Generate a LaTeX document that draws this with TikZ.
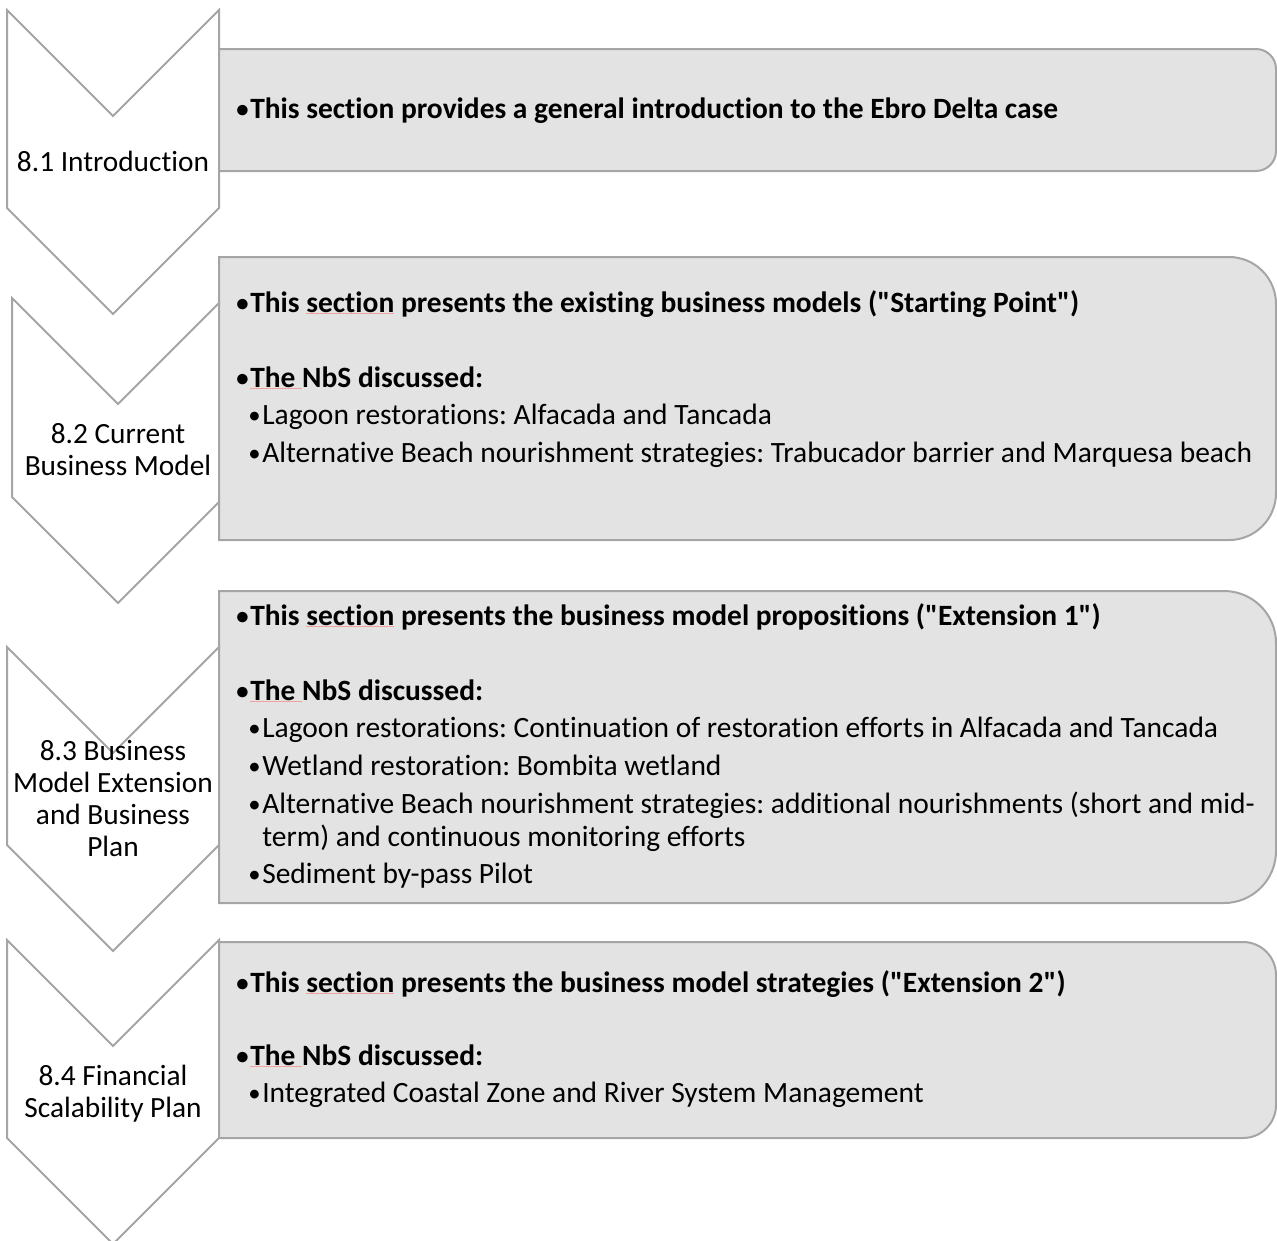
\documentclass[tikz,border=0pt]{standalone}
\usepackage{fontspec}
\setmainfont{Carlito}[Ligatures={TeXOff,NoCommon}]

\definecolor{edgegray}{HTML}{A5A5A5}
\definecolor{panelgray}{HTML}{E3E3E3}
\definecolor{squig}{HTML}{F2A0A0}

% light red mark under a word
\newsavebox\markbox
\newcommand\spellmark[1]{\sbox\markbox{#1}\rlap{\color{squig}\rule[-1.6pt]{\wd\markbox}{0.7pt}}\usebox\markbox}
% bullet followed by its indent
\newcommand\itemdot{\makebox[10.5pt][l]{\raisebox{0.5pt}{\fontsize{18.5}{24}\selectfont •}}}

\tikzset{
  chevron/.style={draw=edgegray, line width=1.5pt, fill=white, line join=miter},
  panel/.style={draw=edgegray, line width=1.5pt, fill=panelgray},
  steplabel/.style={font=\fontsize{22}{24}\selectfont, anchor=base, inner sep=0pt},
  itemtext/.style={font=\fontsize{22.1}{24}\selectfont\frenchspacing, anchor=base west, inner sep=0pt},
  headtext/.style={font=\fontsize{22.1}{24}\selectfont\bfseries\frenchspacing, anchor=base west, inner sep=0pt},
}

\begin{document}
\begin{tikzpicture}[x=0.75pt, y=-0.75pt]
\useasboundingbox (0,0) rectangle (1277,1240);
\clip (0,0) rectangle (1277,1240);

% downward chevrons
\path[chevron] (7,10) -- (113,116) -- (219,10) -- (219,208) -- (113,314) -- (7,208) -- cycle;
\path[chevron] (12,298) -- (118,404) -- (224,298) -- (224,497) -- (118,603) -- (12,497) -- cycle;
\path[chevron] (7,647) -- (113,753) -- (219,647) -- (219,845) -- (113,951) -- (7,845) -- cycle;
\path[chevron] (7,940) -- (113,1046) -- (219,940) -- (219,1138) -- (113,1244) -- (7,1138) -- cycle;

% content panels, rounded on the right side
\path[panel] (219,49) -- (1256,49) arc (90:0:15pt) -- (1276,151) arc (0:-90:15pt) -- (219,171) -- cycle;
\path[panel] (219,257) -- (1229,257) arc (90:0:35.25pt) -- (1276,493) arc (0:-90:35.25pt) -- (219,540) -- cycle;
\path[panel] (219,591) -- (1224,591) arc (90:0:39pt) -- (1276,851) arc (0:-90:39pt) -- (219,903) -- cycle;
\path[panel] (219,942) -- (1243,942) arc (90:0:24.75pt) -- (1276,1105) arc (0:-90:24.75pt) -- (219,1138) -- cycle;

% chevron labels
\node[steplabel] (s1) at (113,171) {8.1 Introduction};
\node[steplabel] (s2a) at (118,443) {8.2 Current};
\node[steplabel] (s2b) at (118,475) {Business Model};
\node[steplabel] (s3a) at (113,760) {8.3 Business};
\node[steplabel] (s3b) at (113,792) {Model Extension};
\node[steplabel] (s3c) at (113,824) {and Business};
\node[steplabel] (s3d) at (113,856) {Plan};
\node[steplabel] (s4a) at (113,1085) {8.4 Financial};
\node[steplabel] (s4b) at (113,1117) {Scalability Plan};

% panel 1
\node[headtext] (p1a) at (236,118) {\itemdot This section provides a general introduction to the Ebro Delta case};

% panel 2
\node[headtext] (p2a) at (236,312) {\itemdot This \spellmark{section} presents the existing business models ("Starting Point")};
\node[headtext] (p2b) at (236,387) {\itemdot\spellmark{The\ }NbS discussed:};
\node[itemtext] (p2c) at (248,424) {\itemdot Lagoon restorations: Alfacada and Tancada};
\node[itemtext] (p2d) at (248,462) {\itemdot Alternative Beach nourishment strategies: Trabucador barrier and Marquesa beach};

% panel 3
\node[headtext] (p3a) at (236,625) {\itemdot This \spellmark{section} presents the business model propositions ("Extension 1")};
\node[headtext] (p3b) at (236,700) {\itemdot\spellmark{The\ }NbS discussed:};
\node[itemtext] (p3c) at (248,737) {\itemdot Lagoon restorations: Continuation of restoration efforts in Alfacada and Tancada};
\node[itemtext] (p3d) at (248,775) {\itemdot Wetland restoration: Bombita wetland};
\node[itemtext] (p3e) at (248,813) {\itemdot Alternative Beach nourishment strategies: additional nourishments (short and mid-};
\node[itemtext] (p3f) at (262,846) {term) and continuous monitoring efforts};
\node[itemtext] (p3g) at (248,883) {\itemdot Sediment by-pass Pilot};

% panel 4
\node[headtext] (p4a) at (236,992) {\itemdot This \spellmark{section} presents the business model strategies ("Extension 2")};
\node[headtext] (p4b) at (236,1065) {\itemdot\spellmark{The\ }NbS discussed:};
\node[itemtext] (p4c) at (248,1102) {\itemdot Integrated Coastal Zone and River System Management};
\end{tikzpicture}
\end{document}
